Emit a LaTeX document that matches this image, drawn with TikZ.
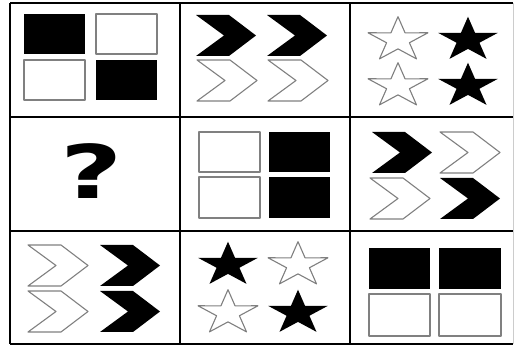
\documentclass[tikz,border=0pt]{standalone}
\usepackage{fontspec}
\setmainfont{Liberation Sans}
\newfontfamily\qfont{DejaVu Sans}
\newcommand\chevp[2]{(#1,#2) -- ++(33,0) -- ++(27,20.5) -- ++(-27,20.5) -- ++(-33,0) -- ++(28,-20.5) -- cycle}
\newcommand\mystar[3]{\begin{scope}[shift={(#1,#2)},yscale=0.74]\path[#3] (90:31.5pt) \foreach \a/\r in {126/12,162/31.5,198/12,234/31.5,270/12,306/31.5,342/12,18/31.5,54/12} {-- (\a:\r pt)} -- cycle;\end{scope}}
\begin{document}
\begin{tikzpicture}[x=1pt,y=-1pt,
  grid/.style={line width=2.4pt,black},
  hollow/.style={draw=black!50,line width=1.1pt,fill=white,line join=round},
  solid/.style={fill=black}]
\useasboundingbox (0,0) rectangle (515,347);
\fill[white] (0,0) rectangle (515,347);
% grid
\draw[grid] (10,3) -- (513,3);
\draw[grid] (10,344) -- (513,344);
\draw[grid] (10,3) -- (10,344);
\draw[black!20,line width=1pt] (513,3) -- (513,344);
\draw[grid] (180,3) -- (180,344);
\draw[grid] (350,3) -- (350,344);
\draw[grid] (10,117) -- (513,117);
\draw[grid] (10,231) -- (513,231);
% cell 1,1 squares
\fill[solid] (24,14) rectangle (85,54);
\draw[hollow] (96,14) rectangle (157,54);
\draw[hollow] (24,60) rectangle (85,100);
\fill[solid] (96,60) rectangle (157,100);
% cell 1,2 chevrons
\fill[solid] \chevp{196}{15};
\fill[solid] \chevp{267}{15};
\draw[hollow] \chevp{197}{60};
\draw[hollow] \chevp{268}{60};
% cell 1,3 stars
\mystar{398}{40}{hollow}
\mystar{468}{40}{solid}
\mystar{398}{86}{hollow}
\mystar{468}{86}{solid}
% cell 2,1 question mark
\node[anchor=base,xscale=1.45,inner sep=0pt,font=\fontsize{74}{74}\selectfont\qfont\bfseries] (q) at (92,199) {?};
% cell 2,2 squares
\draw[hollow] (199,132) rectangle (260,172);
\fill[solid] (269,132) rectangle (330,172);
\draw[hollow] (199,177) rectangle (260,218);
\fill[solid] (269,177) rectangle (330,218);
% cell 2,3 chevrons
\fill[solid] \chevp{372}{132};
\draw[hollow] \chevp{440}{132};
\draw[hollow] \chevp{370}{178};
\fill[solid] \chevp{440}{178};
% cell 3,1 chevrons
\draw[hollow] \chevp{28}{245};
\fill[solid] \chevp{100}{245};
\draw[hollow] \chevp{28}{291};
\fill[solid] \chevp{100}{291};
% cell 3,2 stars
\mystar{228}{265}{solid}
\mystar{298}{265}{hollow}
\mystar{228}{313}{hollow}
\mystar{298}{313}{solid}
% cell 3,3 squares
\fill[solid] (369,248) rectangle (430,289);
\fill[solid] (439,248) rectangle (501,289);
\draw[hollow] (369,294) rectangle (430,336);
\draw[hollow] (439,294) rectangle (501,336);
\end{tikzpicture}
\end{document}
